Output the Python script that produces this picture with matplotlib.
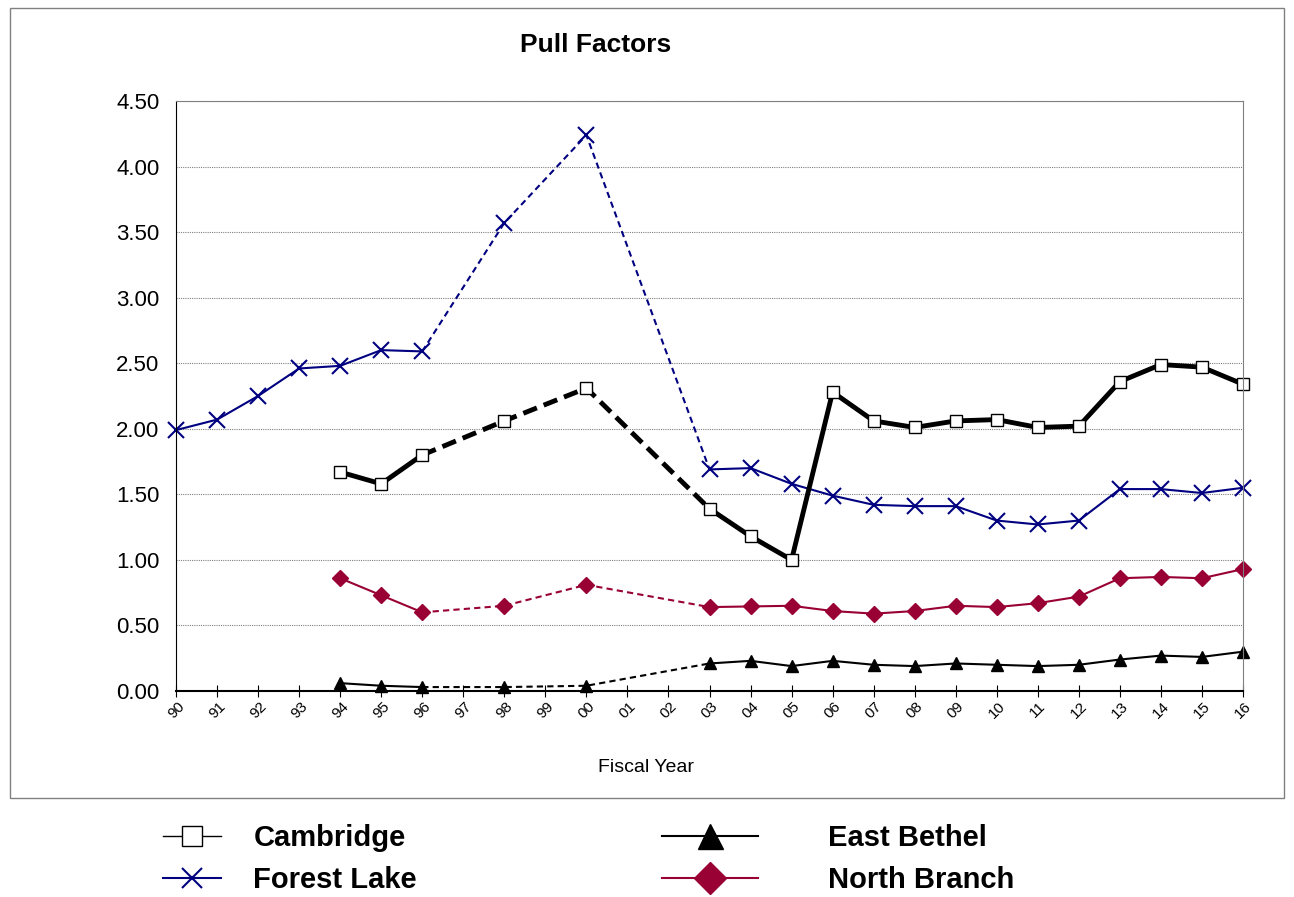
import matplotlib
matplotlib.use("Agg")
import matplotlib.pyplot as plt
from matplotlib.lines import Line2D
from matplotlib.patches import Rectangle
import numpy as np

years = ["90","91","92","93","94","95","96","97","98","99","00","01","02","03","04","05","06","07","08","09","10","11","12","13","14","15","16"]
fl_years = ["90","91","92","93","94","95","96","98","00","03","04","05","06","07","08","09","10","11","12","13","14","15","16"]
forest_lake = [1.99,2.07,2.25,2.46,2.48,2.60,2.59,3.57,4.24,1.69,1.70,1.58,1.49,1.42,1.41,1.41,1.30,1.27,1.30,1.54,1.54,1.51,1.55]
oth_years = ["94","95","96","98","00","03","04","05","06","07","08","09","10","11","12","13","14","15","16"]
cambridge = [1.67,1.58,1.80,2.06,2.31,1.39,1.18,1.00,2.28,2.06,2.01,2.06,2.07,2.01,2.02,2.36,2.49,2.47,2.34]
north_branch = [0.86,0.73,0.60,0.65,0.81,0.64,0.645,0.65,0.61,0.59,0.61,0.65,0.64,0.67,0.72,0.86,0.87,0.86,0.93]
east_bethel = [0.06,0.04,0.03,0.03,0.04,0.21,0.23,0.19,0.23,0.20,0.19,0.21,0.20,0.19,0.20,0.24,0.27,0.26,0.30]

FONT = "Liberation Sans"
pos = {y: i for i, y in enumerate(years)}
fig = plt.figure(figsize=(12.94, 8.97), dpi=100)
fig.patches.append(Rectangle((10/1294, 1-798/897), 1274/1294, 790/897, transform=fig.transFigure,
                             fill=False, edgecolor="#808080", lw=1))
ax = fig.add_axes([176/1294, 1-691/897, 1067/1294, 590/897])

def draw(yrs, vals, color, lw, marker, ms, mfc):
    x = np.array([pos[y] for y in yrs]); v = np.array(vals)
    i96 = yrs.index("96"); i03 = yrs.index("03")
    ax.plot(x[:i96+1], v[:i96+1], color=color, lw=lw)
    ax.plot(x[i96:i03+1], v[i96:i03+1], color=color, lw=lw, ls=(0, (3, 2)) if lw < 2 else (0, (3, 1.5)))
    ax.plot(x[i03:], v[i03:], color=color, lw=lw)
    ax.plot(x, v, ls="none", marker=marker, ms=ms, mfc=mfc, mec=color, mew=1.5 if marker == "x" else 1, clip_on=False)

draw(fl_years, forest_lake, "#000080", 1.5, "x", 11, "#000080")
draw(oth_years, cambridge, "black", 3.5, "s", 8, "white")
draw(oth_years, north_branch, "#990033", 1.5, "D", 8, "#990033")
draw(oth_years, east_bethel, "black", 1.5, "^", 9, "black")

ax.set_xlim(0, 26)
ax.set_ylim(0, 4.5)
yt = np.arange(0, 4.51, 0.5)
ax.set_yticks(yt)
ax.set_yticklabels([f"{v:.2f}" for v in yt], fontsize=16, family=FONT)
ax.set_xticks(range(len(years)))
ax.set_xticklabels(years, rotation=45, fontsize=11, family=FONT)
ax.tick_params(axis="x", direction="inout", length=8, pad=2)
ax.tick_params(axis="y", length=0, pad=12)
ax.grid(axis="y", color="#808080", ls=(0, (1, 1)), lw=0.8)
for s in ["top", "right"]:
    ax.spines[s].set_color("#808080")
    ax.spines[s].set_linewidth(0.8)
ax.spines["bottom"].set_linewidth(1.5)
fig.text(646/1294, 1-767/897, "Fiscal Year", fontsize=14, family=FONT, ha="center", va="center")
fig.text(596/1294, 1-45/897, "Pull Factors", fontsize=19, fontweight="bold", family=FONT, ha="center", va="center")

prop = {"family": FONT, "size": 21, "weight": "bold"}
h1 = [Line2D([], [], color="black", lw=1, marker="s", ms=14, mfc="white", mec="black"),
      Line2D([], [], color="#000080", lw=1.5, marker="x", ms=14, mew=1.5)]
h2 = [Line2D([], [], color="black", lw=1.5, marker="^", ms=18, mfc="black"),
      Line2D([], [], color="#990033", lw=1.5, marker="D", ms=16, mfc="#990033", mec="#990033")]
for hs, labs, xa, hl, tp in [(h1, ["Cambridge", "Forest Lake"], 163, 2.0, 1.1),
                             (h2, ["East Bethel", "North Branch"], 662, 3.3, 2.4)]:
    fig.legend(hs, labs, loc="center left", bbox_to_anchor=(xa/1294, 1-859/897), frameon=False,
               prop=prop, handlelength=hl, labelspacing=0.5, handletextpad=tp, borderpad=0, borderaxespad=0)
fig.savefig("out.png", dpi=100)
